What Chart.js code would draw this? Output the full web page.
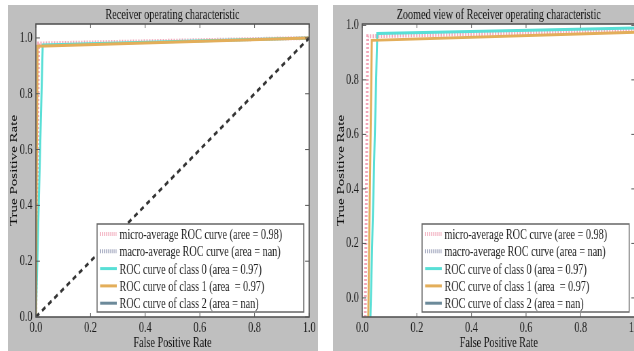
<!DOCTYPE html>
<html>
<head>
<meta charset="utf-8">
<script src="https://cdn.jsdelivr.net/npm/chart.js@4"></script>
<style>
  html, body { margin: 0; padding: 0; background: #fff; overflow: hidden; width: 634px; height: 351px; }
  .panel { position: absolute; top: 5px; height: 346px; width: 310px; background: #bfbfbf; overflow: hidden; }
  #left { left: 8px; }
  #right { left: 333px; }
  canvas { display: block; }
</style>
</head>
<body>
<div class="panel" id="left"><canvas id="rocFull" width="456" height="346" style="width:310px;height:346px"></canvas></div>
<div class="panel" id="right"><canvas id="rocZoom" width="456" height="346" style="width:310px;height:346px"></canvas></div>
<script>
// tick labels
const xTicks = [0, 0.2, 0.4, 0.6, 0.8, 1.0];
const yTicks = [0, 0.2, 0.4, 0.6, 0.8, 1.0];

const legendLabels = [
    'micro-average ROC curve (aree = 0.98)',
    'macro-average ROC curve (area = nan)',
    'ROC curve of class 0 (area = 0.97)',
    'ROC curve of class 1 (area  = 0.97)',
    'ROC curve of class 2 (area = nan)'
];

// full view
const fullMicroFpr = [0, 0.01, 1];
const fullMicroTpr = [0, 0.98, 1];
const fullClass0Fpr = [0, 0.025, 1];
const fullClass0Tpr = [0, 0.975, 1];
const fullClass1Fpr = [0, 0.006, 1];
const fullClass1Tpr = [0, 0.97, 1];
const chanceFpr = [0, 1];
const chanceTpr = [0, 1];

// zoomed view
const zoomMicroFpr = [0.011, 0.02, 1];
const zoomMicroTpr = [-0.07, 0.96, 0.98];
const zoomClass0Fpr = [0.03, 0.055, 1];
const zoomClass0Tpr = [-0.07, 0.97, 0.99];
const zoomClass1Fpr = [0.022, 0.035, 1];
const zoomClass1Tpr = [-0.07, 0.945, 0.975];

// macro average and class 2 are nan, nothing to draw
const emptyFpr = [];
const emptyTpr = [];

const SX = 310 / 456; // canvas is squeezed horizontally like the original
const serif = '"Liberation Serif", "Times New Roman", serif';

function toPoints(xs, ys) {
    return xs.map((x, i) => ({ x: x, y: ys[i] }));
}

function rocSets(micro, macro, c0, c1, c2, chance) {
    const sets = [
        { label: legendLabels[0], data: micro, borderColor: '#f2a7b9', borderWidth: 4, borderDash: [2, 2], order: 5 },
        { label: legendLabels[1], data: macro, borderColor: '#959cb6', borderWidth: 4, borderDash: [2, 2], order: 4 },
        { label: legendLabels[2], data: c0, borderColor: '#58dfd6', borderWidth: 3, order: 3 },
        { label: legendLabels[3], data: c1, borderColor: '#e3ae5a', borderWidth: 3, order: 2 },
        { label: legendLabels[4], data: c2, borderColor: '#6c8a9a', borderWidth: 3, order: 1 }
    ];
    if (chance) {
        sets.push({ data: chance, borderColor: '#333', borderWidth: 3, borderDash: [6, 5], order: 0 });
    }
    sets.forEach(s => {
        s.pointRadius = 0;
        s.tension = 0;
        s.fill = false;
    });
    return sets;
}

const rocDecor = {
    id: 'rocDecor',
    beforeDraw(chart) {
        const ctx = chart.ctx;
        const a = chart.chartArea;
        ctx.save();
        ctx.fillStyle = '#fff';
        ctx.fillRect(a.left, a.top, a.right - a.left, a.bottom - a.top);
        ctx.restore();
    },
    afterDatasetsDraw(chart) {
        const ctx = chart.ctx;
        const a = chart.chartArea;
        const xs = chart.scales.x;
        const ys = chart.scales.y;
        ctx.save();
        ctx.strokeStyle = '#555';
        ctx.lineWidth = 1;
        xTicks.forEach(v => {
            const px = xs.getPixelForValue(v);
            ctx.beginPath();
            ctx.moveTo(px, a.bottom); ctx.lineTo(px, a.bottom - 4);
            ctx.moveTo(px, a.top); ctx.lineTo(px, a.top + 4);
            ctx.stroke();
        });
        yTicks.forEach(v => {
            const py = ys.getPixelForValue(v);
            ctx.beginPath();
            ctx.moveTo(a.left, py); ctx.lineTo(a.left + 4 / SX, py);
            ctx.moveTo(a.right, py); ctx.lineTo(a.right - 4 / SX, py);
            ctx.stroke();
        });
        ctx.lineWidth = 1.6;
        ctx.strokeRect(a.left, a.top, a.right - a.left, a.bottom - a.top);
        ctx.restore();
    },
    afterDraw(chart, args, opts) {
        const ctx = chart.ctx;
        const a = chart.chartArea;
        const cx = (a.left + a.right) / 2;
        ctx.save();
        ctx.fillStyle = '#111';
        ctx.textAlign = 'center';
        ctx.textBaseline = 'middle';
        ctx.font = '15px ' + serif;
        ctx.fillText(opts.title, cx, 10);
        ctx.font = '15px ' + serif;
        ctx.fillText(opts.xTitle, cx, 338);
        ctx.save();
        ctx.translate(opts.yTitleX, (a.top + a.bottom) / 2);
        ctx.rotate(-Math.PI / 2);
        ctx.fillText(opts.yTitle, 0, 0);
        ctx.restore();

        // legend box, lower right
        const left = a.left + opts.legendLeft;
        const right = a.right - opts.legendRight;
        const top = a.bottom - 93;
        const bottom = a.bottom - 5;
        ctx.fillStyle = '#fff';
        ctx.fillRect(left, top, right - left, bottom - top);
        ctx.strokeStyle = '#666';
        ctx.lineWidth = 1.5;
        ctx.strokeRect(left, top, right - left, bottom - top);
        ctx.textAlign = 'left';
        ctx.font = '15px ' + serif;
        chart.data.datasets.filter(d => d.label).forEach((d, i) => {
            const y = top + 10 + i * 17.3;
            ctx.strokeStyle = d.borderColor;
            ctx.lineWidth = d.borderDash ? 4 : 3;
            ctx.setLineDash(d.borderDash ? [1.5, 1.5] : []);
            ctx.beginPath();
            ctx.moveTo(left + 4.5, y);
            ctx.lineTo(left + 29, y);
            ctx.stroke();
            ctx.setLineDash([]);
            ctx.fillStyle = '#222';
            ctx.fillText(d.label, left + 33, y + 1);
        });
        ctx.restore();
    }
};

function rocChart(id, datasets, yMin, yMax, yAxisWidth, padRight, decor) {
    const tickFont = { family: serif, size: 15 };
    return new Chart(document.getElementById(id), {
        type: 'line',
        data: { datasets: datasets },
        options: {
            responsive: false,
            animation: false,
            layout: { padding: { top: 19, right: padRight, left: 0, bottom: 0 } },
            scales: {
                x: {
                    type: 'linear', min: 0, max: 1,
                    grid: { display: false, drawTicks: false },
                    border: { display: false },
                    afterBuildTicks: s => { s.ticks = xTicks.map(v => ({ value: v })); },
                    afterFit: s => { s.height = 34; },
                    ticks: { padding: 2, font: tickFont, color: '#1a1a1a', maxRotation: 0, callback: v => v.toFixed(1) }
                },
                y: {
                    type: 'linear', min: yMin, max: yMax,
                    grid: { display: false, drawTicks: false },
                    border: { display: false },
                    afterBuildTicks: s => { s.ticks = yTicks.map(v => ({ value: v })); },
                    afterFit: s => { s.width = yAxisWidth; },
                    ticks: { padding: 5, font: tickFont, color: '#1a1a1a', callback: v => v.toFixed(1) }
                }
            },
            plugins: {
                legend: { display: false },
                tooltip: { enabled: false },
                rocDecor: decor
            }
        },
        plugins: [rocDecor]
    });
}

rocChart('rocFull',
    rocSets(toPoints(fullMicroFpr, fullMicroTpr), toPoints(emptyFpr, emptyTpr),
        toPoints(fullClass0Fpr, fullClass0Tpr), toPoints(fullClass1Fpr, fullClass1Tpr),
        toPoints(emptyFpr, emptyTpr), toPoints(chanceFpr, chanceTpr)),
    0, 1.05, 41, 13,
    { title: 'Receiver operating characteristic', xTitle: 'False Positive Rate', yTitle: 'True Positive Rate',
      yTitleX: 9, legendLeft: 90, legendRight: 8 });

rocChart('rocZoom',
    rocSets(toPoints(zoomMicroFpr, zoomMicroTpr), toPoints(emptyFpr, emptyTpr),
        toPoints(zoomClass0Fpr, zoomClass0Tpr), toPoints(zoomClass1Fpr, zoomClass1Tpr),
        toPoints(emptyFpr, emptyTpr), null),
    -0.07, 1.005, 43, 10,
    { title: 'Zoomed view of Receiver operating characteristic', xTitle: 'False Positive Rate', yTitle: 'True Positive Rate',
      yTitleX: 12, legendLeft: 88, legendRight: 9 });
</script>
</body>
</html>
